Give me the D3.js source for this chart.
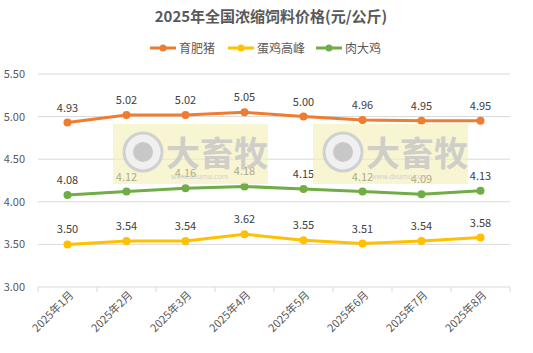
<!DOCTYPE html>
<html>
<head>
<meta charset="utf-8">
<script src="https://cdn.jsdelivr.net/npm/d3@7"></script>
<style>
  body { margin: 0; background: #fff; }
  text { font-family: "Noto Sans CJK SC", "Noto Sans", sans-serif; }
</style>
</head>
<body>
<div class="canva"></div>
<script>
// data
const months = ['2025年1月', '2025年2月', '2025年3月', '2025年4月', '2025年5月', '2025年6月', '2025年7月', '2025年8月'];
const pig = [4.93, 5.02, 5.02, 5.05, 5.00, 4.96, 4.95, 4.95];
const layer = [3.50, 3.54, 3.54, 3.62, 3.55, 3.51, 3.54, 3.58];
const broiler = [4.08, 4.12, 4.16, 4.18, 4.15, 4.12, 4.09, 4.13];
const seriesNames = ['育肥猪', '蛋鸡高峰', '肉大鸡'];
const yTicks = [3.0, 3.5, 4.0, 4.5, 5.0, 5.5];

const colors = ['#ED7D31', '#FFC000', '#70AD47'];
const series = [pig, layer, broiler].map((vals, i) => ({ name: seriesNames[i], vals, color: colors[i] }));

const W = 533, H = 353;
const svg = d3.select('.canva').append('svg')
  .attr('width', W)
  .attr('height', H);

const margin = { top: 74, right: 23, bottom: 66, left: 38 };
const gw = W - margin.left - margin.right;
const gh = H - margin.top - margin.bottom;

// title
svg.append('text')
  .attr('x', 271).attr('y', 22)
  .attr('text-anchor', 'middle')
  .attr('font-size', 15).attr('font-weight', 'bold')
  .attr('fill', '#595959')
  .text('2025年全国浓缩饲料价格(元/公斤)');

// legend
const legX = [150, 228, 316];
const leg = svg.append('g');
series.forEach((s, i) => {
  const g = leg.append('g').attr('transform', `translate(${legX[i]}, 48)`);
  g.append('line').attr('x1', 0).attr('x2', 26).attr('stroke', s.color).attr('stroke-width', 3);
  g.append('circle').attr('cx', 13).attr('r', 3.5).attr('fill', s.color);
  g.append('text').attr('x', 29).attr('y', 4.5).attr('font-size', 12).attr('fill', '#595959').text(s.name);
});

const graph = svg.append('g').attr('transform', `translate(${margin.left}, ${margin.top})`);

const x = d3.scaleBand().domain(months).range([0, gw]);
const y = d3.scaleLinear().domain([3, 5.5]).range([gh, 0]);

// grid
graph.selectAll('.grid').data(yTicks).enter().append('line')
  .attr('x1', 0).attr('x2', gw)
  .attr('y1', d => y(d)).attr('y2', d => y(d))
  .attr('stroke', '#d9d9d9').attr('stroke-width', 1);

// y labels
graph.selectAll('.ylab').data(yTicks).enter().append('text')
  .attr('x', -13).attr('y', d => y(d) + 4)
  .attr('text-anchor', 'end')
  .attr('font-size', 11).attr('fill', '#595959')
  .text(d => d.toFixed(2));

// x axis
const xAxis = d3.axisBottom(x).tickSize(0);
const xAxisGroup = graph.append('g').attr('transform', `translate(0, ${gh})`).call(xAxis);
xAxisGroup.select('.domain').remove();
xAxisGroup.selectAll('text')
  .attr('font-size', 11).attr('fill', '#595959')
  .attr('text-anchor', 'end')
  .attr('transform', 'translate(4, 6) rotate(-45)')
  .attr('x', 0).attr('y', 0).attr('dy', '0.35em');
// band separators
const seps = months.map(m => x(m)).concat([gw]);
graph.selectAll('.sep').data(seps).enter().append('line')
  .attr('x1', d => d).attr('x2', d => d)
  .attr('y1', gh).attr('y2', gh + 5)
  .attr('stroke', '#d9d9d9');

// watermarks
[[113, 124], [313, 124]].forEach(([wx, wy]) => {
  const g = svg.append('g').attr('transform', `translate(${wx}, ${wy})`);
  g.append('rect').attr('width', 155).attr('height', 60).attr('fill', '#f3eeb4').attr('opacity', 0.6);
  g.append('circle').attr('cx', 30).attr('cy', 28).attr('r', 19).attr('fill', '#f0f0f0').attr('stroke', '#d0d0d0').attr('stroke-width', 3);
  g.append('circle').attr('cx', 30).attr('cy', 28).attr('r', 10).attr('fill', '#c8c8c8');
  g.append('text').attr('x', 53).attr('y', 42).attr('font-size', 34).attr('font-weight', 'bold').attr('fill', '#c8c8c8').attr('opacity', 0.85).text('大畜牧');
  g.append('text').attr('x', 58).attr('y', 55).attr('font-size', 7).attr('fill', '#d0d0d0').text('www.dxumu.com');
});

// lines
const line = d3.line()
  .x((d, i) => x(months[i]) + x.bandwidth() / 2)
  .y(d => y(d));

series.forEach(s => {
  graph.append('path').datum(s.vals)
    .attr('d', line)
    .attr('fill', 'none')
    .attr('stroke', s.color).attr('stroke-width', 3)
    .attr('stroke-linecap', 'round');
  graph.selectAll(null).data(s.vals).enter().append('circle')
    .attr('cx', (d, i) => x(months[i]) + x.bandwidth() / 2)
    .attr('cy', d => y(d))
    .attr('r', 4)
    .attr('fill', s.color);
  graph.selectAll(null).data(s.vals).enter().append('text')
    .attr('x', (d, i) => x(months[i]) + x.bandwidth() / 2)
    .attr('y', d => y(d) - 11)
    .attr('text-anchor', 'middle')
    .attr('font-size', 11).attr('fill', '#404040')
    .text(d => d.toFixed(2));
});
</script>
</body>
</html>
